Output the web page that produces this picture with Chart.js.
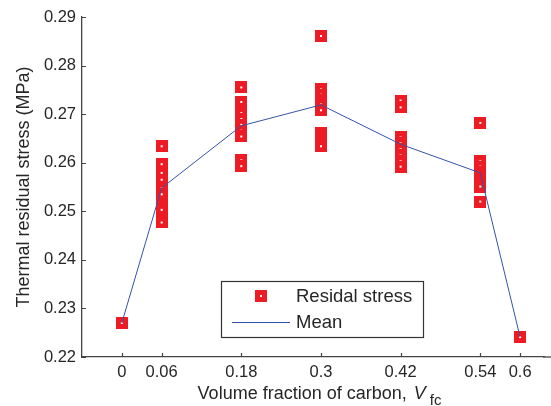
<!DOCTYPE html>
<html>
<head>
<meta charset="utf-8">
<script src="https://cdn.jsdelivr.net/npm/chart.js@4.4.1/dist/chart.umd.min.js"></script>
<style>
  html, body { margin: 0; padding: 0; background: #fff; }
  #wrap { width: 551px; height: 406px; }
</style>
</head>
<body>
<div id="wrap"><canvas id="chart" width="551" height="406"></canvas></div>
<script>
// ---------------- Data ----------------
const xTicks = [0, 0.06, 0.18, 0.3, 0.42, 0.54, 0.6];
const xTickLabels = ['0', '0.06', '0.18', '0.3', '0.42', '0.54', '0.6'];
const yTicks = [0.22, 0.23, 0.24, 0.25, 0.26, 0.27, 0.28, 0.29];
const yTickLabels = ['0.22', '0.23', '0.24', '0.25', '0.26', '0.27', '0.28', '0.29'];

// residual stress samples for each carbon fraction
const stressAt000 = [0.2270];
const stressAt006 = [0.2634, 0.2597, 0.2579, 0.2565, 0.2547, 0.2535, 0.2510, 0.2503, 0.2477];
const stressAt018 = [0.2755, 0.2725, 0.2702, 0.2690, 0.2678, 0.2666, 0.2654, 0.2605, 0.2593];
const stressAt030 = [0.2861, 0.2751, 0.2740, 0.2730, 0.2720, 0.2708, 0.2661, 0.2652, 0.2642, 0.2634];
const stressAt042 = [0.2728, 0.2714, 0.2652, 0.2640, 0.2628, 0.2615, 0.2603, 0.2592];
const stressAt054 = [0.2682, 0.2603, 0.2592, 0.2580, 0.2570, 0.2560, 0.2551, 0.2520];
const stressAt060 = [0.2241];

const meanStress = [0.2270, 0.2548, 0.2676, 0.2719, 0.2638, 0.2579, 0.2241];

const FONT = "'Liberation Sans', Arial, Helvetica, sans-serif";
const TEXT = '#262626';
const AXIS = '#444444';
const RED = '#ed1c24';
const BLUE = '#3553a8';

// ---------------- Helpers ----------------
function makeMarker(size) {
  const c = document.createElement('canvas');
  c.width = size;
  c.height = size;
  const g = c.getContext('2d');
  g.fillStyle = RED;
  g.fillRect(0, 0, size, size);
  g.fillStyle = '#ffffff';
  g.fillRect(size / 2 - 1, size / 2 - 1, 2, 2);
  return c;
}
const marker = makeMarker(12);

const groups = [stressAt000, stressAt006, stressAt018, stressAt030, stressAt042, stressAt054, stressAt060];
const residualPoints = [];
groups.forEach((vals, i) => vals.forEach(v => residualPoints.push({ x: xTicks[i], y: v })));
const meanPoints = meanStress.map((v, i) => ({ x: xTicks[i], y: v }));

// inward tick marks, x-axis title with italic/subscript, boxed legend
const decor = {
  id: 'decor',
  afterDraw(chart) {
    const { ctx, chartArea, scales } = chart;
    const { left, right, bottom } = chartArea;
    ctx.save();
    ctx.strokeStyle = AXIS;
    ctx.lineWidth = 1.2;
    ctx.beginPath();
    scales.x.ticks.forEach(t => {
      const px = Math.round(scales.x.getPixelForValue(t.value)) + 0.5;
      ctx.moveTo(px, bottom);
      ctx.lineTo(px, bottom - 4);
    });
    scales.y.ticks.forEach(t => {
      const py = Math.round(scales.y.getPixelForValue(t.value)) + 0.5;
      ctx.moveTo(left, py);
      ctx.lineTo(left + 4, py);
    });
    ctx.stroke();
    // axis line runs on to the figure edge
    ctx.lineWidth = 1.3;
    ctx.beginPath();
    ctx.moveTo(right - 1, bottom);
    ctx.lineTo(chart.width, bottom);
    ctx.stroke();

    // x title
    const mainTxt = 'Volume fraction of carbon, ';
    ctx.fillStyle = TEXT;
    ctx.textBaseline = 'alphabetic';
    ctx.font = `18px ${FONT}`;
    const w1 = ctx.measureText(mainTxt).width;
    ctx.font = `italic 18px ${FONT}`;
    const w2 = ctx.measureText('V').width;
    ctx.font = `15px ${FONT}`;
    const w3 = ctx.measureText('fc').width;
    let tx = 319.5 - (w1 + w2 + w3 + 6) / 2;
    const base = 399;
    ctx.font = `18px ${FONT}`;
    ctx.fillText(mainTxt, tx, base);
    tx += w1 + 2;
    ctx.font = `italic 18px ${FONT}`;
    ctx.fillText('V', tx, base);
    tx += w2 + 4;
    ctx.font = `15px ${FONT}`;
    ctx.fillText('fc', tx, base + 6);

    // legend
    const lx = left + 139, ly = chartArea.top + 264, lw = 202, lh = 56;
    ctx.fillStyle = '#ffffff';
    ctx.fillRect(lx, ly, lw, lh);
    ctx.strokeStyle = '#333333';
    ctx.lineWidth = 1.2;
    ctx.strokeRect(lx + 0.5, ly + 0.5, lw, lh);
    const ds = chart.data.datasets;
    ctx.drawImage(marker, lx + 34, ly + 9);
    ctx.strokeStyle = BLUE;
    ctx.lineWidth = 1;
    ctx.beginPath();
    ctx.moveTo(lx + 11, ly + 41.5);
    ctx.lineTo(lx + 69, ly + 41.5);
    ctx.stroke();
    ctx.fillStyle = TEXT;
    ctx.font = `18.5px ${FONT}`;
    ctx.textBaseline = 'middle';
    ctx.fillText(ds[1].label, lx + 75, ly + 16);
    ctx.fillText(ds[0].label, lx + 75, ly + 42);
    ctx.restore();
  }
};

new Chart(document.getElementById('chart'), {
  type: 'scatter',
  data: {
    datasets: [
      {
        type: 'line',
        label: 'Mean',
        data: meanPoints,
        borderColor: BLUE,
        borderWidth: 1,
        pointRadius: 0,
        fill: false,
        tension: 0,
        order: 0
      },
      {
        label: 'Residal stress',
        data: residualPoints,
        pointStyle: marker,
        pointRadius: 6,
        pointHoverRadius: 6,
        order: 1
      }
    ]
  },
  options: {
    responsive: false,
    animation: false,
    devicePixelRatio: 1,
    layout: { padding: { top: 17, right: 0, left: 0, bottom: 0 } },
    plugins: {
      legend: { display: false },
      tooltip: { enabled: false }
    },
    scales: {
      x: {
        type: 'linear',
        min: -0.06,
        max: 0.636,
        afterBuildTicks: s => { s.ticks = xTicks.map(v => ({ value: v })); },
        afterFit: s => { s.height = 49; },
        ticks: {
          autoSkip: false,
          maxRotation: 0,
          padding: 6,
          color: TEXT,
          font: { family: FONT, size: 16.5 },
          callback: (v, i) => xTickLabels[i]
        },
        grid: { drawOnChartArea: false, drawTicks: false },
        border: { color: AXIS, width: 1.3 }
      },
      y: {
        min: 0.22,
        max: 0.29,
        afterBuildTicks: s => { s.ticks = yTicks.map(v => ({ value: v })); },
        afterFit: s => { s.width = 82; },
        ticks: {
          autoSkip: false,
          padding: 6,
          color: TEXT,
          font: { family: FONT, size: 16.5 },
          callback: (v, i) => yTickLabels[i]
        },
        grid: { drawOnChartArea: false, drawTicks: false },
        border: { color: AXIS, width: 1.3 },
        title: {
          display: true,
          text: 'Thermal residual stress (MPa)',
          color: TEXT,
          font: { family: FONT, size: 18 },
          padding: { top: 13, bottom: 0 }
        }
      }
    }
  },
  plugins: [decor]
});
</script>
</body>
</html>
